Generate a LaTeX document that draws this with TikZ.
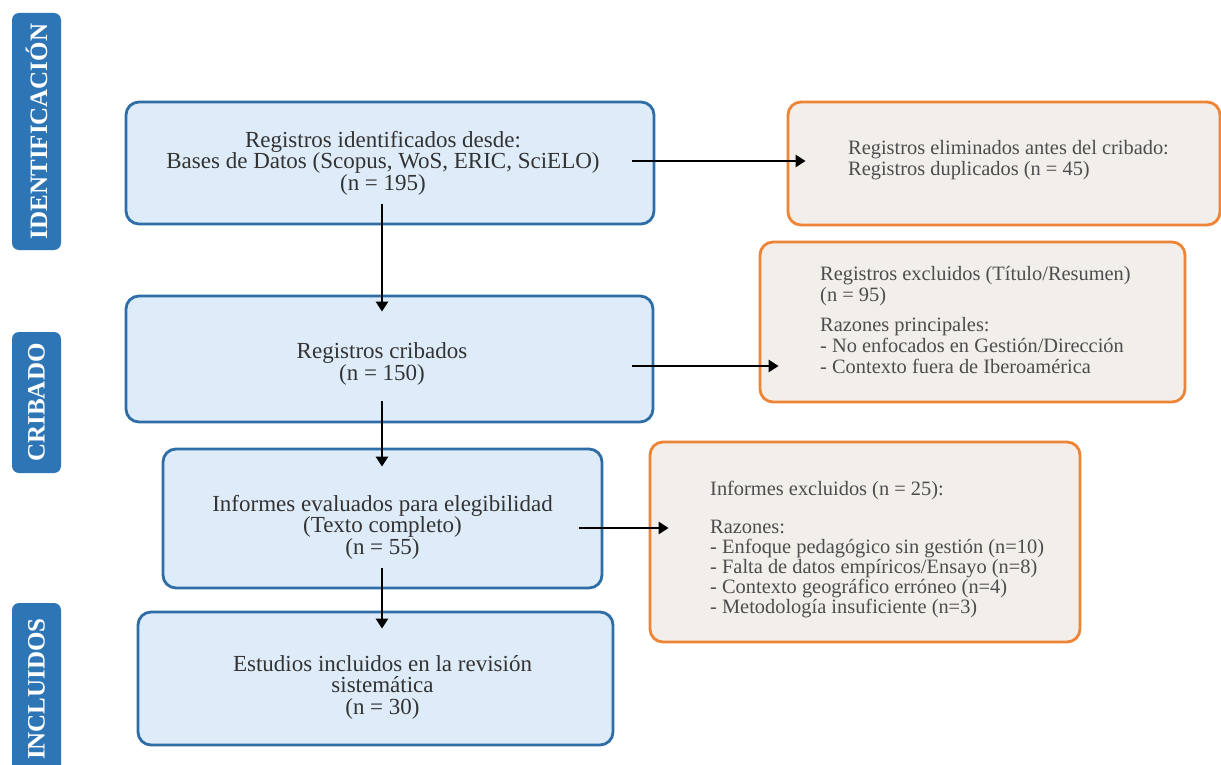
\documentclass[tikz,border=0pt]{standalone}
\usepackage{fontspec}
\setmainfont{Liberation Serif}
\usetikzlibrary{arrows.meta}
\definecolor{sideblue}{HTML}{2E75B6}
\definecolor{boxline}{HTML}{2F6DA6}
\definecolor{boxfill}{HTML}{DEEBF8}
\definecolor{orline}{HTML}{EE8436}
\definecolor{orfill}{HTML}{F2EEEA}
\definecolor{txtdark}{HTML}{333333}
\definecolor{txtgray}{HTML}{4D4D4D}
\begin{document}
\begin{tikzpicture}[x=1pt,y=-1pt,
  sidebox/.style={draw=none, fill=sideblue, rounded corners=7pt, inner sep=0pt},
  sidetext/.style={text=white, font=\bfseries\fontsize{25}{25}\selectfont, rotate=90, inner sep=0pt},
  bluebox/.style={draw=boxline, fill=boxfill, line width=2.8pt, rounded corners=13pt, inner sep=0pt},
  orbox/.style={draw=orline, fill=orfill, line width=2.8pt, rounded corners=13pt, inner sep=0pt},
  btext/.style={text=txtdark, align=center, font=\fontsize{23}{21.5}\selectfont, inner sep=0pt},
  otext/.style={text=txtgray, align=left, anchor=west, font=\fontsize{20.4}{21}\selectfont, inner sep=0pt},
  arr/.style={-{Triangle[length=10pt,width=12pt]}, line width=2.8pt, black}]
\clip (0,0) rectangle (1221,765);
\fill[white] (0,0) rectangle (1221,765);

% side labels
\node[sidebox, minimum width=49pt, minimum height=237pt] (s1) at (36.5,131.5) {};
\node[sidetext] (s1t) at (s1.center) {IDENTIFICACIÓN};
\node[sidebox, minimum width=49pt, minimum height=141pt] (s2) at (36.5,402.5) {};
\node[sidetext] (s2t) at (s2.center) {CRIBADO};
\node[sidebox, minimum width=49pt, minimum height=190pt] (s3) at (36.5,698) {};
\node[sidetext] (s3t) at (36.5,689) {INCLUIDOS};

% main boxes
\node[bluebox, minimum width=528pt, minimum height=122pt] (b1) at (390,163) {};
\node[btext] (b1t) at (383,163) {Registros identificados desde:\\Bases de Datos (Scopus, WoS, ERIC, SciELO)\\(n = 195)};
\node[bluebox, minimum width=527pt, minimum height=126pt] (b2) at (389.5,359) {};
\node[btext] (b2t) at (382,364) {Registros cribados\\(n = 150)};
\node[bluebox, minimum width=439pt, minimum height=139pt] (b3) at (382.5,518.5) {};
\node[btext] (b3t) at (382.5,527) {Informes evaluados para elegibilidad\\(Texto completo)\\(n = 55)};
\node[bluebox, minimum width=475pt, minimum height=133pt] (b4) at (375.5,678.5) {};
\node[btext] (b4t) at (382.5,687) {Estudios incluidos en la revisión\\sistemática\\(n = 30)};

% exclusion boxes
\node[orbox, minimum width=432pt, minimum height=123pt] (o1) at (1004,163.5) {};
\node[otext] (o1t) at (848,160.5) {Registros eliminados antes del cribado:\\Registros duplicados (n = 45)};
\node[orbox, minimum width=425pt, minimum height=160pt] (o2) at (972.5,322) {};
\node[otext] (o2t) at (820,320) {Registros excluidos (Título/Resumen)\\(n = 95)\\[9pt]Razones principales:\\- No enfocados en Gestión/Dirección\\- Contexto fuera de Iberoamérica};
\node[orbox, minimum width=430pt, minimum height=200pt] (o3) at (865,542) {};
\node[otext, font=\fontsize{20.4}{20}\selectfont] (o3t) at (710,550) {Informes excluidos (n = 25):\\[18pt]Razones:\\- Enfoque pedagógico sin gestión (n=10)\\- Falta de datos empíricos/Ensayo (n=8)\\- Contexto geográfico erróneo (n=4)\\- Metodología insuficiente (n=3)};

% connectors
\draw[arr] ([xshift=-8pt,yshift=21pt]b1.south) -- ([xshift=-7.5pt,yshift=-17pt]b2.north);
\draw[arr] ([xshift=-7.5pt,yshift=22pt]b2.south) -- ([xshift=-0.5pt,yshift=-19pt]b3.north);
\draw[arr] ([xshift=-0.5pt,yshift=21pt]b3.south) -- ([xshift=6.5pt,yshift=-18pt]b4.north);
\draw[arr] ([xshift=-23pt,yshift=2pt]b1.east) -- ([xshift=19pt,yshift=2.5pt]o1.west);
\draw[arr] ([xshift=-22pt,yshift=-7pt]b2.east) -- ([xshift=20pt,yshift=-44pt]o2.west);
\draw[arr] ([xshift=-24pt,yshift=-9.5pt]b3.east) -- ([xshift=20pt,yshift=14pt]o3.west);
\end{tikzpicture}
\end{document}
